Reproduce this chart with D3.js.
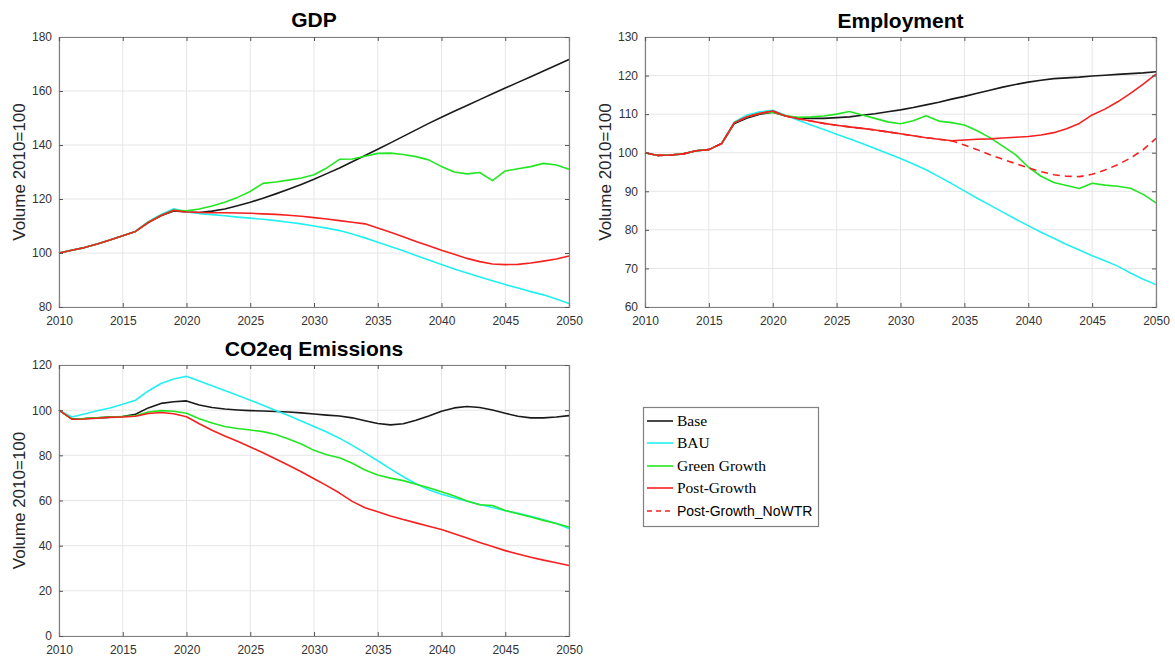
<!DOCTYPE html>
<html>
<head>
<meta charset="utf-8">
<script src="https://cdn.jsdelivr.net/npm/d3@7"></script>
<style>
  html, body { margin: 0; padding: 0; background: #fff; }
  svg { display: block; }
  text { font-family: "Liberation Sans", Arial, sans-serif; }
</style>
</head>
<body>
<svg id="chart" width="1175" height="659"></svg>
<script>
// ---------------- DATA ----------------
const years = d3.range(2010, 2051);
const seriesNames = ["Base", "BAU", "Green Growth", "Post-Growth", "Post-Growth_NoWTR"];
const seriesColors = ["#1a1a1a", "#22f0f0", "#22e622", "#f52020", "#f52020"];

const xTicks = [2010, 2015, 2020, 2025, 2030, 2035, 2040, 2045, 2050];
const gdpTicks = [80, 100, 120, 140, 160, 180];
const empTicks = [60, 70, 80, 90, 100, 110, 120, 130];
const co2Ticks = [0, 20, 40, 60, 80, 100, 120];

// GDP
const gdpBase = [100,101,102,103.3,104.8,106.4,108,111.3,113.8,115.6,115.2,115,115.5,116.3,117.5,118.8,120.3,121.9,123.6,125.4,127.3,129.4,131.5,133.8,136.1,138.4,140.8,143.2,145.6,148.0,150.3,152.5,154.6,156.8,159.0,161.1,163.2,165.3,167.4,169.5,171.7];
const gdpBAU = [100,101,102,103.3,104.8,106.4,108,111.6,114.3,116.4,115.2,114.6,114.2,113.8,113.3,112.9,112.5,112,111.4,110.8,110,109.2,108.3,107,105.6,104,102.4,100.8,99.1,97.4,95.7,94.1,92.6,91.1,89.7,88.3,87,85.7,84.5,83,81.3];
const gdpGreen = [100,101,102,103.3,104.8,106.4,108,111.4,114,115.8,115.6,116.3,117.4,118.8,120.6,122.8,125.8,126.3,127,127.8,129,131.5,134.7,134.8,135.8,136.9,137,136.5,135.7,134.5,132,130,129.3,129.8,126.8,130.4,131.2,132,133.2,132.6,131];
const gdpPost = [100,101,102,103.3,104.8,106.4,108,111.3,113.9,115.8,115.2,115,114.9,114.9,114.8,114.7,114.5,114.3,114,113.6,113.1,112.6,112,111.4,110.8,109.3,107.7,106,104.3,102.7,101,99.5,98,96.8,95.9,95.7,95.8,96.3,97,97.8,98.9];

// Employment
const empBase = [100,99.3,99.4,99.7,100.5,100.8,102.4,107.6,109,110,110.5,109.5,109,108.9,108.9,109.1,109.3,109.7,110.1,110.6,111.1,111.7,112.4,113.1,113.9,114.6,115.4,116.2,117,117.7,118.3,118.8,119.2,119.4,119.6,119.9,120.1,120.3,120.5,120.7,121];
const empBAU = [100,99.3,99.4,99.7,100.5,100.8,102.4,108,109.8,110.6,111,109.7,108.4,107.2,106,104.8,103.6,102.4,101.1,99.8,98.5,97.1,95.6,93.8,92,90.1,88.2,86.4,84.6,82.8,81.1,79.4,77.8,76.2,74.8,73.3,72,70.6,68.8,67.2,65.8];
const empGreen = [100,99.3,99.4,99.7,100.5,100.8,102.4,107.8,109.3,110.2,110.5,109.6,109.2,109.3,109.5,110,110.7,109.8,108.9,108,107.5,108.3,109.6,108.2,107.8,107.2,105.7,103.9,101.7,99.5,96.3,93.9,92.3,91.5,90.7,92.1,91.6,91.3,90.8,89.2,87];
const empPost = [100,99.3,99.4,99.7,100.5,100.8,102.4,107.8,109.3,110.2,110.8,109.5,108.8,108.2,107.6,107.1,106.7,106.3,105.9,105.4,104.9,104.4,103.9,103.5,103.1,103.3,103.5,103.6,103.8,104,104.2,104.6,105.2,106.2,107.6,109.8,111.3,113.2,115.4,117.8,120.4];
const empPostNoWTR = [100,99.3,99.4,99.7,100.5,100.8,102.4,107.8,109.3,110.2,110.8,109.5,108.8,108.2,107.6,107.1,106.7,106.3,105.9,105.4,104.9,104.4,103.9,103.5,103.1,102,100.8,99.5,98.3,97.2,96.1,95.1,94.3,93.9,93.8,94.4,95.5,96.9,98.6,100.8,103.7];

// CO2eq emissions
const co2Base = [100,96.2,96.3,96.6,96.9,97.2,98.2,101,103,103.7,104.1,102.3,101.2,100.5,100.1,99.8,99.6,99.4,99.2,98.8,98.3,97.8,97.4,96.6,95.3,94.1,93.5,94,95.5,97.4,99.5,101,101.6,101.2,100.1,98.6,97.3,96.6,96.6,97,97.6];
const co2BAU = [100,97,98.3,99.7,101,102.6,104.4,108.5,111.8,113.8,115,112.9,110.8,108.7,106.6,104.4,102.2,99.9,97.6,95.2,92.8,90.3,87.6,84.4,81.1,77.6,74,70.5,67.4,64.8,62.8,61.2,59.7,58.2,56.9,55.5,54.3,53,51.5,49.8,47.6];
const co2Green = [100,96,96.3,96.6,96.9,97.2,97.5,99.2,99.8,99.5,98.6,96.2,94.3,92.8,91.9,91.2,90.5,89.2,87.2,85,82.2,80.3,78.9,76.5,73.5,71.3,69.9,68.8,67.2,65.6,63.9,62,59.8,58.1,57.8,55.6,54.1,52.7,51.2,49.8,48.3];
const co2Post = [100,96,96.1,96.4,96.8,97,97.3,98.5,99,98.4,97.1,94,91.1,88.6,86.2,83.7,81.1,78.4,75.6,72.7,69.6,66.6,63.3,59.6,56.8,55,53.1,51.6,50.1,48.6,47.2,45.3,43.4,41.4,39.6,37.8,36.3,34.9,33.6,32.4,31.2];

// ---------------- DRAW ----------------
const svg = d3.select("#chart");

function panel(opts) {
  const { left, right, top, bottom, yDomain, yTicks, title, titleY, series } = opts;
  const x = d3.scaleLinear().domain([2010, 2050]).range([left, right]);
  const y = d3.scaleLinear().domain(yDomain).range([bottom, top]);
  const g = svg.append("g");

  // grid
  g.selectAll(".vg").data(xTicks).enter().append("line")
    .attr("x1", d => x(d)).attr("x2", d => x(d))
    .attr("y1", top).attr("y2", bottom)
    .attr("stroke", "#e6e6e6").attr("stroke-width", 1);
  g.selectAll(".hg").data(yTicks).enter().append("line")
    .attr("x1", left).attr("x2", right)
    .attr("y1", d => y(d)).attr("y2", d => y(d))
    .attr("stroke", "#e6e6e6").attr("stroke-width", 1);

  const line = d3.line().x((d, i) => x(years[i])).y(d => y(d));
  series.forEach(s => {
    g.append("path")
      .attr("d", line(s.values))
      .attr("fill", "none")
      .attr("stroke", s.color)
      .attr("stroke-width", 1.6)
      .attr("stroke-dasharray", s.dash || null)
      .attr("stroke-linejoin", "round");
  });

  const xAxis = d3.axisBottom(x).tickValues(xTicks).tickFormat(d3.format("d")).tickSize(-4).tickPadding(9);
  const yAxis = d3.axisLeft(y).tickValues(yTicks).tickSize(-4).tickPadding(7);
  const xa = g.append("g").attr("transform", `translate(0,${bottom})`).call(xAxis);
  const ya = g.append("g").attr("transform", `translate(${left},0)`).call(yAxis);
  const xt = g.append("g").attr("transform", `translate(0,${top})`).call(d3.axisTop(x).tickValues(xTicks).tickSize(-4).tickFormat(""));
  const yr = g.append("g").attr("transform", `translate(${right},0)`).call(d3.axisRight(y).tickValues(yTicks).tickSize(-4).tickFormat(""));
  [xa, ya, xt, yr].forEach(a => {
    a.select(".domain").attr("stroke", "#808080").attr("stroke-width", 1.2);
    a.selectAll(".tick line").attr("stroke", "#555");
    a.selectAll("text").attr("fill", "#333").style("font-size", "12px")
      .style("font-family", "'Liberation Sans', Arial, sans-serif");
  });

  g.append("text")
    .attr("transform", `translate(${left - 34},${(top + bottom) / 2}) rotate(-90)`)
    .attr("text-anchor", "middle")
    .attr("fill", "#262626")
    .style("font-size", "17px")
    .text("Volume 2010=100");

  g.append("text")
    .attr("x", (left + right) / 2).attr("y", titleY)
    .attr("text-anchor", "middle")
    .attr("fill", "#000")
    .style("font-size", "21px").style("font-weight", "bold")
    .text(title);
}

panel({
  left: 59, right: 569, top: 37, bottom: 307, yDomain: [80, 180], yTicks: gdpTicks,
  title: "GDP", titleY: 27,
  series: [
    { values: gdpBase, color: seriesColors[0] },
    { values: gdpBAU, color: seriesColors[1] },
    { values: gdpGreen, color: seriesColors[2] },
    { values: gdpPost, color: seriesColors[3] }
  ]
});

panel({
  left: 645, right: 1156, top: 37, bottom: 307, yDomain: [60, 130], yTicks: empTicks,
  title: "Employment", titleY: 28,
  series: [
    { values: empBase, color: seriesColors[0] },
    { values: empBAU, color: seriesColors[1] },
    { values: empGreen, color: seriesColors[2] },
    { values: empPostNoWTR, color: seriesColors[4], dash: "7,5" },
    { values: empPost, color: seriesColors[3] }
  ]
});

panel({
  left: 59, right: 569, top: 365, bottom: 636, yDomain: [0, 120], yTicks: co2Ticks,
  title: "CO2eq Emissions", titleY: 356,
  series: [
    { values: co2Base, color: seriesColors[0] },
    { values: co2BAU, color: seriesColors[1] },
    { values: co2Green, color: seriesColors[2] },
    { values: co2Post, color: seriesColors[3] }
  ]
});

// legend
const lg = svg.append("g");
lg.append("rect").attr("x", 643.5).attr("y", 407.5).attr("width", 175).attr("height", 119)
  .attr("fill", "#fff").attr("stroke", "#808080").attr("stroke-width", 1.2);
const legY = [421, 443, 466, 488, 511];
seriesNames.forEach((name, i) => {
  lg.append("line")
    .attr("x1", 647).attr("x2", 673).attr("y1", legY[i]).attr("y2", legY[i])
    .attr("stroke", seriesColors[i]).attr("stroke-width", 1.6)
    .attr("stroke-dasharray", i === 4 ? "5,4" : null);
  lg.append("text")
    .attr("x", 677).attr("y", legY[i] + 5)
    .attr("fill", "#000")
    .style("font-family", i === 4 ? "'Liberation Sans', Arial, sans-serif" : "'Liberation Serif', 'Times New Roman', serif")
    .style("font-size", i === 4 ? "14px" : "15.5px")
    .text(name);
});
</script>
</body>
</html>
